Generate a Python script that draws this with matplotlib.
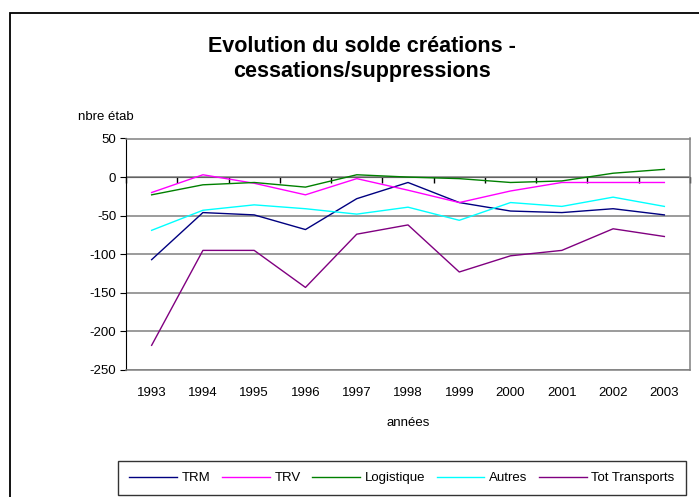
import numpy as np
import matplotlib
matplotlib.use('Agg')
import matplotlib.pyplot as plt
from matplotlib.patches import Rectangle

plt.rcParams['font.family'] = ['Liberation Sans', 'DejaVu Sans']

# data
annees = ['1993', '1994', '1995', '1996', '1997', '1998', '1999', '2000', '2001', '2002', '2003']
trm = [-107, -46, -49, -68, -28, -7, -33, -44, -46, -41, -49]
trv = [-20, 3, -8, -23, -2, -17, -33, -18, -7, -7, -7]
logistique = [-23, -10, -7, -13, 3, 0, -2, -7, -5, 5, 10]
autres = [-69, -43, -36, -41, -48, -39, -56, -33, -38, -26, -38]
tot_transports = [-218, -95, -95, -143, -74, -62, -123, -102, -95, -67, -77]

series = [('TRM', trm, '#000080'),
          ('TRV', trv, '#FF00FF'),
          ('Logistique', logistique, '#008000'),
          ('Autres', autres, '#00FFFF'),
          ('Tot Transports', tot_transports, '#800080')]

yticks = [50, 0, -50, -100, -150, -200, -250]

fig = plt.figure(figsize=(6.99, 4.97), dpi=100)
W, H = 699, 497

# outer chart frame
fig.patches.append(Rectangle((10 / W, -0.1), 1.2, 1 - 13 / H + 0.1,
                             transform=fig.transFigure, fill=False,
                             edgecolor='black', linewidth=1.3))

ax = fig.add_axes([126 / W, 1 - 370 / H, (690 - 126) / W, (370 - 138.5) / H])
x = np.arange(len(annees))

for name, vals, col in series:
    ax.plot(x, vals, color=col, linewidth=1.0, label=name)

ax.set_xlim(-0.5, len(annees) - 0.5)
ax.set_ylim(-250, 50)
ax.set_yticks(yticks)
ax.set_yticklabels([str(v) for v in yticks], fontsize=9.5)
ax.yaxis.grid(True, color='#808080', linewidth=1.1)
ax.set_axisbelow(True)

for s in ['top', 'right', 'bottom']:
    ax.spines[s].set_color('#808080')
    ax.spines[s].set_linewidth(1.1)
ax.spines['left'].set_color('black')
ax.tick_params(axis='y', direction='out', length=4, pad=3)

ax.set_xticks(x)
ax.set_xticklabels(annees, fontsize=9.5)
ax.tick_params(axis='x', length=0, pad=12)

# category axis crossing at y = 0, tick marks between categories
zero = ax.secondary_xaxis(250 / 300)
zero.xaxis.set_ticks_position('bottom')
zero.spines['bottom'].set_color('black')
zero.spines['bottom'].set_linewidth(1.0)
zero.set_xticks(np.arange(-0.5, len(annees), 1.0))
zero.set_xticklabels([])
zero.tick_params(axis='x', direction='out', length=4, width=1)

ax.set_xlabel('années', fontsize=9.5, labelpad=13)

fig.text(106 / W, 1 - 117 / H, 'nbre étab', fontsize=9.5, ha='center', va='center')
fig.text(362 / W, 1 - 59 / H, 'Evolution du solde créations -\ncessations/suppressions',
         fontsize=15.5, fontweight='bold', ha='center', va='center', linespacing=1.3)

leg = fig.legend(loc='center', bbox_to_anchor=((114 + 690) / 2 / W, 1 - 478 / H),
                 ncol=5, fontsize=9.5, frameon=True, fancybox=False,
                 handlelength=3.6, handletextpad=0.35, columnspacing=0.9,
                 borderpad=0.85)
leg.get_frame().set_edgecolor('black')
leg.get_frame().set_linewidth(1.0)

fig.savefig('out.png', dpi=100)
